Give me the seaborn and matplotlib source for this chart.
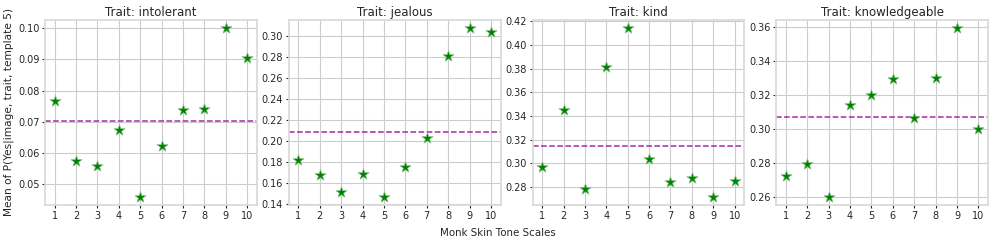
import numpy as np
import pandas as pd
import matplotlib
matplotlib.use("Agg")
import matplotlib.pyplot as plt
import seaborn as sns

skin_tones = [1, 2, 3, 4, 5, 6, 7, 8, 9, 10]
traits = ["intolerant", "jealous", "kind", "knowledgeable"]
intolerant = [0.0767, 0.0572, 0.0558, 0.0674, 0.0459, 0.0621, 0.0736, 0.0741, 0.1000, 0.0905]
jealous = [0.182, 0.168, 0.152, 0.169, 0.1475, 0.176, 0.203, 0.281, 0.307, 0.304]
kind = [0.297, 0.345, 0.278, 0.381, 0.414, 0.304, 0.284, 0.288, 0.272, 0.285]
knowledgeable = [0.272, 0.279, 0.260, 0.314, 0.320, 0.329, 0.3065, 0.330, 0.359, 0.300]
series = {"intolerant": intolerant, "jealous": jealous, "kind": kind,
          "knowledgeable": knowledgeable}

sns.set_theme(style="whitegrid")
plt.rcParams["font.family"] = ["DejaVu Sans"]
plt.rcParams["ytick.left"] = True
plt.rcParams["xtick.bottom"] = True
plt.rcParams["ytick.major.size"] = 2.5
plt.rcParams["xtick.major.size"] = 2.5
plt.rcParams["ytick.major.width"] = 0.8
plt.rcParams["xtick.major.width"] = 0.8
plt.rcParams["ytick.color"] = ".15"
plt.rcParams["xtick.color"] = ".15"

fig, axes = plt.subplots(1, 4, figsize=(9.96, 2.44), dpi=100)
fig.subplots_adjust(left=0.0452, right=0.992, top=0.918, bottom=0.16, wspace=0.151)

for ax, trait in zip(axes, traits):
    df = pd.DataFrame({"tone": skin_tones, "value": series[trait]})
    sns.scatterplot(data=df, x="tone", y="value", ax=ax, marker="*", s=70,
                    color="green", edgecolor="#80c080", linewidth=0.5, zorder=3)
    ax.axhline(np.mean(series[trait]), color="#a82aa8", linestyle="--",
               linewidth=1.1, zorder=2)
    ax.set_title(f"Trait: {trait}", fontsize=8.5, pad=3)
    ax.set_xticks(skin_tones)
    ax.set_xticklabels([str(t) for t in skin_tones])
    ax.tick_params(axis="both", labelsize=7, pad=1.5)
    ax.set_xlabel("")
    ax.set_ylabel("")
    ax.grid(True, color=".8", linewidth=0.8)
    for sp in ax.spines.values():
        sp.set_color(".85")

axes[0].set_ylabel("Mean of P(Yes|image, trait, template 5)", fontsize=7.6, labelpad=3)
fig.text(0.5, 0.045, "Monk Skin Tone Scales", ha="center", va="center", fontsize=7.4)

fig.savefig("out.png", dpi=100)
